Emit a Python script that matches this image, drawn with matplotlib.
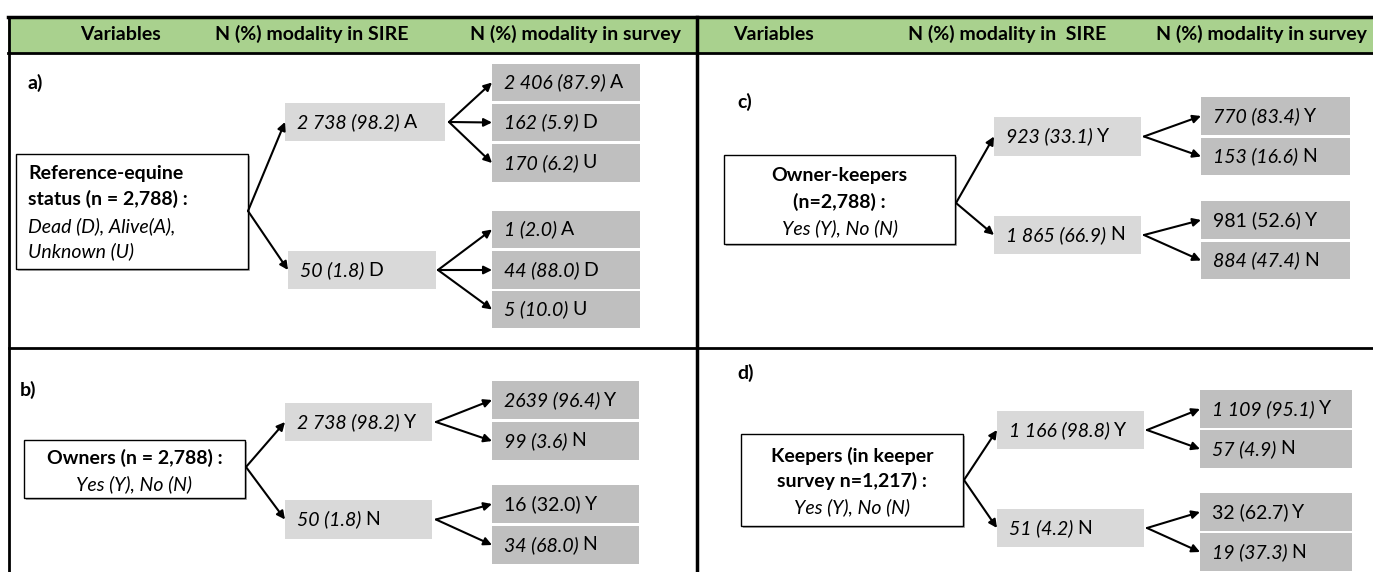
import matplotlib.pyplot as plt
from matplotlib.patches import Rectangle

plt.rcParams['font.family'] = ['Lato', 'DejaVu Sans']
FS = 14

# header labels
header_left = ["Variables", "N (%) modality in SIRE", "N (%) modality in survey"]
header_right = ["Variables", "N (%) modality in  SIRE", "N (%) modality in survey"]
panel_tags = ["a)", "b)", "c)", "d)"]

# root boxes: (text, style)
root_a = [("Reference-equine", "bold"), ("status (n = 2,788) :", "bold"),
          ("Dead (D), Alive(A),", "italic"), ("Unknown (U)", "italic")]
root_b = [("Owners (n = 2,788) :", "bold"), ("Yes (Y), No (N)", "italic")]
root_c = [("Owner-keepers", "bold"), ("(n=2,788) :", "bold"), ("Yes (Y), No (N)", "italic")]
root_d = [("Keepers (in keeper", "bold"), ("survey n=1,217) :", "bold"), ("Yes (Y), No (N)", "italic")]

# SIRE modality: (N (%), modality)
sire_a = [("2 738 (98.2)", "A"), ("50 (1.8)", "D")]
sire_b = [("2 738 (98.2)", "Y"), ("50 (1.8)", "N")]
sire_c = [("923 (33.1)", "Y"), ("1 865 (66.9)", "N")]
sire_d = [("1 166 (98.8)", "Y"), ("51 (4.2)", "N")]

# survey modality: (N (%), modality, italic)
survey_a = [[("2 406 (87.9)", "A", True), ("162 (5.9)", "D", True), ("170 (6.2)", "U", True)],
            [("1 (2.0)", "A", True), ("44 (88.0)", "D", True), ("5 (10.0)", "U", True)]]
survey_b = [[("2639 (96.4)", "Y", True), ("99 (3.6)", "N", True)],
            [("16 (32.0)", "Y", False), ("34 (68.0)", "N", True)]]
survey_c = [[("770 (83.4)", "Y", True), ("153 (16.6)", "N", True)],
            [("981 (52.6)", "Y", False), ("884 (47.4)", "N", True)]]
survey_d = [[("1 109 (95.1)", "Y", True), ("57 (4.9)", "N", True)],
            [("32 (62.7)", "Y", False), ("19 (37.3)", "N", True)]]

W, H = 1373, 572
fig = plt.figure(figsize=(W / 100, H / 100), dpi=100)
ax = fig.add_axes([0, 0, 1, 1])
ax.set_xlim(0, W)
ax.set_ylim(H, 0)
ax.axis('off')
renderer = fig.canvas.get_renderer()

LIGHT = '#d9d9d9'
DARK = '#bfbfbf'


def node(x0, y0, x1, y1, num, letter, italic=True, color=LIGHT):
    ax.add_patch(Rectangle((x0, y0), x1 - x0, y1 - y0, facecolor=color, edgecolor='none'))
    yc = (y0 + y1) / 2
    t = ax.text(x0 + 12, yc, num, style='italic' if italic else 'normal',
                ha='left', va='center', fontsize=FS)
    bb = t.get_window_extent(renderer)
    ax.text(bb.x1 + 4, yc, letter, ha='left', va='center', fontsize=FS)


def arrow(x0, y0, x1, y1):
    ax.annotate('', xy=(x1, y1), xytext=(x0, y0),
                arrowprops=dict(arrowstyle='-|>', color='black', lw=1.5,
                                mutation_scale=12, shrinkA=0, shrinkB=0))


def root(x0, y0, x1, y1, lines, ys, align='center'):
    # soft shadow, then the box
    ax.add_patch(Rectangle((x0 + 2, y0 + 2), x1 - x0, y1 - y0, facecolor='#b0b0b0',
                           edgecolor='none'))
    ax.add_patch(Rectangle((x0, y0), x1 - x0, y1 - y0, facecolor='white',
                           edgecolor='black', lw=1))
    xt = (x0 + x1) / 2 if align == 'center' else x0 + 12
    for (txt, st), y in zip(lines, ys):
        if st == 'bold':
            ax.text(xt, y, txt, ha=align, va='center', fontsize=FS, fontweight='bold')
        else:
            ax.text(xt, y, txt, ha=align, va='center', fontsize=FS, style='italic')


def tree(root_anchor, sire, sire_boxes, survey, survey_x, survey_ys, fork_x):
    rx, ry = root_anchor
    for (num, let), (bx0, by0, bx1, by1), group, ys, fx in zip(sire, sire_boxes, survey, survey_ys, fork_x):
        yc = (by0 + by1) / 2
        node(bx0, by0, bx1, by1, num, let)
        arrow(rx, ry, bx0, yc)
        for (n2, l2, it), (y0, y1) in zip(group, ys):
            node(survey_x[0], y0, survey_x[1], y1, n2, l2, it, DARK)
            arrow(fx, yc, survey_x[0], (y0 + y1) / 2)


# header band and grid lines
ax.add_patch(Rectangle((8, 17), W - 8, 36, facecolor='#a9d18e', edgecolor='none'))
ax.plot([8, W], [17, 17], color='black', lw=2.5)
ax.plot([8, W], [53, 53], color='black', lw=2)
ax.plot([9, 9], [17, H], color='black', lw=2)
ax.plot([697, 697], [17, H], color='black', lw=2.5)
ax.plot([9, W], [348, 348], color='black', lw=2)

for txt, x in zip(header_left, [120, 312, 575]):
    ax.text(x, 34, txt, ha='center', va='center', fontsize=FS, fontweight='bold')
for txt, x in zip(header_right, [773, 1007, 1261]):
    ax.text(x, 34, txt, ha='center', va='center', fontsize=FS, fontweight='bold')

for tag, (x, y) in zip(panel_tags, [(28, 83), (20, 390), (737, 102), (737, 373)]):
    ax.text(x, y, tag, ha='left', va='center', fontsize=FS, fontweight='bold')

# panel a
root(16, 154, 248, 269, root_a, [174, 199, 226, 251], align='left')
tree((248, 211), sire_a, [(285, 103, 445, 141), (288, 251, 436, 289)], survey_a,
     (492, 640), [[(64, 101), (104, 141), (144, 182)], [(211, 248), (251, 289), (291, 328)]],
     [449, 438])

# panel b
root(24, 440, 245, 498, root_b, [458, 484])
tree((246, 467), sire_b, [(285, 403, 432, 441), (285, 500, 432, 539)], survey_b,
     (492, 639), [[(381, 419), (422, 460)], [(485, 523), (526, 564)]],
     [436, 436])

# panel c
root(724, 155, 955, 244, root_c, [176, 202, 228])
tree((956, 203), sire_c, [(994, 117, 1141, 156), (994, 216, 1141, 254)], survey_c,
     (1201, 1350), [[(97, 135), (138, 175)], [(201, 239), (242, 279)]],
     [1144, 1144])

# panel d
root(741, 434, 963, 526, root_d, [456, 481, 507])
tree((964, 480), sire_d, [(997, 411, 1144, 449), (997, 509, 1144, 547)], survey_d,
     (1200, 1352), [[(390, 428), (430, 468)], [(493, 531), (533, 571)]],
     [1147, 1147])

plt.savefig('out.png', dpi=100)
